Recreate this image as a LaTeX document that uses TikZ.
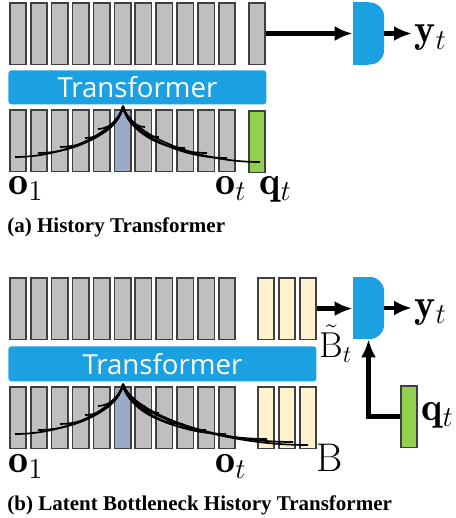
\documentclass[tikz,border=0pt]{standalone}
\usepackage{fontspec}
\newfontfamily\trffont{Open Sans}
\newfontfamily\capfont{Liberation Serif}
\usetikzlibrary{arrows.meta}

\begin{document}
\begin{tikzpicture}[x=0.5pt, y=-0.5pt,
    bar/.style={draw=barLine, fill=barGray, line width=0.8pt, minimum width=8.2pt, minimum height=30.8pt, inner sep=0pt, anchor=north west},
    trf/.style={fill=trfBlue, rounded corners=1.5pt, inner sep=0pt, anchor=north west, text=white, font=\trffont\fontsize{13.8}{15}\selectfont},
    head/.style={fill=trfBlue, rounded corners=7pt, minimum width=15.5pt, minimum height=31pt, inner sep=0pt},
    lbl/.style={inner sep=0pt, anchor=base west, font=\fontsize{20}{22}\selectfont},
    captext/.style={inner sep=0pt, anchor=base west, font=\capfont\bfseries\fontsize{10.5}{12}\selectfont},
    flow/.style={line width=2.4pt, -{Latex[length=9pt,width=7.5pt]}},
    attn/.style={line width=0.85pt}]
    \def\barStep{20.9}

    \definecolor{barGray}{HTML}{BFBFBF}
    \definecolor{barLine}{HTML}{404040}
    \definecolor{trfBlue}{HTML}{1BA1E2}
    \definecolor{queryBlue}{HTML}{9AABC9}
    \definecolor{qGreen}{HTML}{92D050}
    \definecolor{latentYellow}{HTML}{FFF2CC}

    \useasboundingbox (0,0) rectangle (455,518);

    % (a) History Transformer
    \foreach \i in {1,...,11}
        \node[bar] (ta\i) at ({9+\barStep*(\i-1)},2) {};
    \node[bar] (hxA) at (248,2) {};
    \node[trf, minimum width=129pt, minimum height=17pt] (trfA) at (8,70) {Transformer};
    \foreach \i in {1,...,11}
        \node[bar] (ba\i) at ({9+\barStep*(\i-1)},109) {};
    \node[bar, fill=queryBlue] at (ba6.north west) {};
    \node[bar, fill=qGreen] (qA) at (248,110) {};

    % attention curves
    \coordinate (apexA) at (123,106);
    \foreach \ex/\ey in {15/157, 38/153, 60/147, 85/138, 98/129, 145/127, 159/137, 185/148, 207/153, 227/158, 260/162}
        \draw[attn] (apexA) .. controls +({0.05*(\ex-123)},{0.47*(\ey-106)}) and +({-0.5*(\ex-123)},0) .. (\ex,\ey);

    % output head
    \node[head] (decA) at (368.5,33.5) {};
    \fill[trfBlue] (decA.north west) rectangle (decA.south);

    \node[lbl] (o1A) at (8,194) {$\mathbf{o}_1$};
    \node[lbl] (otA) at (215,194) {$\mathbf{o}_t$};
    \node[lbl] (qtA) at (259,194) {$\mathbf{q}_t$};
    \node[lbl] (ytA) at (414,43) {$\mathbf{y}_t$};

    \draw[flow] (hxA.east) -- (decA.west);
    \draw[flow, shorten >=1pt] (decA.east) -- (decA.east -| ytA.west);

    \node[captext] (capA) at (7,232) {(a) History Transformer};

    % (b) Latent Bottleneck History Transformer
    \foreach \i in {1,...,11}
        \node[bar] (tb\i) at ({9+\barStep*(\i-1)},277) {};
    \foreach \i in {1,2,3}
        \node[bar, fill=latentYellow] (ltb\i) at ({257+21*(\i-1)},277) {};
    \node[trf, minimum width=154pt, minimum height=17.5pt] (trfB) at (8,346) {Transformer};
    \foreach \i in {1,...,11}
        \node[bar] (bb\i) at ({9+\barStep*(\i-1)},386) {};
    \node[bar, fill=queryBlue] at (bb6.north west) {};
    \foreach \i in {1,2,3}
        \node[bar, fill=latentYellow] (lbb\i) at ({257+21*(\i-1)},386) {};
    \node[bar, fill=qGreen] (qB) at (400,385) {};

    % attention curves
    \coordinate (apexB) at (123,384);
    \foreach \ex/\ey in {15/434, 38/430, 60/424, 85/415, 98/406, 145/406, 159/413, 183/424, 206/430, 226/434, 267/439, 293/442, 308/445}
        \draw[attn] (apexB) .. controls +({0.05*(\ex-123)},{0.47*(\ey-384)}) and +({-0.5*(\ex-123)},0) .. (\ex,\ey);

    % output head
    \node[head] (decB) at (368.5,308) {};
    \fill[trfBlue] (decB.north west) rectangle (decB.south);

    \node[lbl] (o1B) at (8,472) {$\mathbf{o}_1$};
    \node[lbl] (otB) at (215,472) {$\mathbf{o}_t$};
    \node[lbl] (bnB) at (316,471) {$\mathrm{B}$};
    \node[lbl, font=\fontsize{18}{20}\selectfont] (btB) at (319,357) {$\tilde{\mathrm{B}}_t$};
    \node[lbl] (ytB) at (414,317) {$\mathbf{y}_t$};
    \node[lbl] (qtB) at (421,420) {$\mathbf{q}_t$};

    \draw[flow] (ltb3.east) -- (ltb3.east -| decB.west);
    \draw[flow, shorten >=1pt] (decB.east) -- (decB.east -| ytB.west);
    \draw[flow] (qB.west) -| (decB.south);

    \node[captext] (capB) at (7,510) {(b) Latent Bottleneck History Transformer};

\end{tikzpicture}
\end{document}
